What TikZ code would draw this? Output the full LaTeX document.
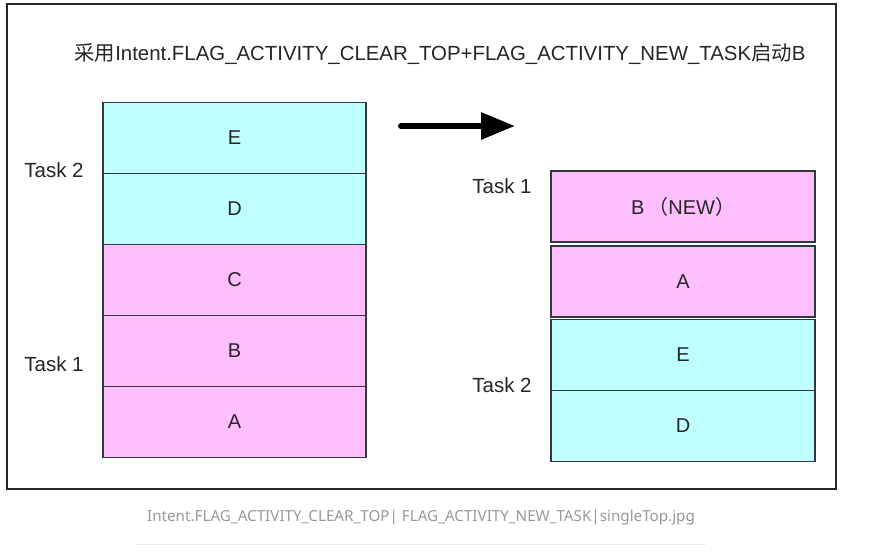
\documentclass[tikz,border=0pt]{standalone}
\usepackage{fontspec}
\setmainfont{Liberation Sans}
\newfontfamily\cjk{Noto Sans CJK SC}
\newfontfamily\capfont{Noto Sans}
\usetikzlibrary{arrows.meta}
\definecolor{cyanfill}{HTML}{BFFFFF}
\definecolor{pinkfill}{HTML}{FFBFFF}
\definecolor{boxline}{HTML}{2F3A3A}
\definecolor{capgray}{HTML}{999999}
\definecolor{rulegray}{HTML}{EBEBEB}
\tikzset{
  stackbox/.style={draw=boxline, line width=1.4pt, minimum width=263pt, minimum height=71pt, inner sep=0pt, font=\fontsize{20}{22}\selectfont, text=black!85},
  cyanbox/.style={stackbox, fill=cyanfill},
  pinkbox/.style={stackbox, fill=pinkfill},
  tasklabel/.style={font=\fontsize{20.5}{22}\selectfont, text=black!85, inner sep=0pt},
}
\begin{document}
\begin{tikzpicture}[x=1pt, y=-1pt]
\useasboundingbox (0,0) rectangle (878,553);
\fill[white] (0,0) rectangle (878,553);
% outer frame
\draw[line width=1.6pt, black!85] (7,4) rectangle (836,489);
% title
\node[inner sep=0pt, font=\fontsize{20.4}{22}\selectfont, text=black!85] (title) at (440,54) {{\cjk 采用}Intent.FLAG\_ACTIVITY\_CLEAR\_TOP+FLAG\_ACTIVITY\_NEW\_TASK{\cjk 启动}B};
% left stack
\node[cyanbox] (lE) at (234.5,138) {E};
\node[cyanbox] (lD) at (234.5,209) {D};
\node[pinkbox] (lC) at (234.5,280) {C};
\node[pinkbox] (lB) at (234.5,351) {B};
\node[pinkbox] (lA) at (234.5,422) {A};
\node[tasklabel] (lt2) at (54,170) {Task 2};
\node[tasklabel] (lt1) at (54,364) {Task 1};
% arrow
\coordinate (arrS) at (401,126);
\coordinate (arrE) at (515,126);
\draw[line width=6pt, line cap=round, -{Triangle[length=34pt,width=26pt]}] (arrS) -- (arrE);
% right stack
\node[pinkbox, minimum width=264pt] (rB) at (683,206.5) {B\hspace{4pt}{\cjk （}NEW{\cjk ）}};
\node[pinkbox, minimum width=264pt] (rA) at (683,281.5) {A};
\node[cyanbox, minimum width=264pt] (rE) at (683,355) {E};
\node[cyanbox, minimum width=264pt] (rD) at (683,426) {D};
\node[tasklabel] (rt1) at (502,186) {Task 1};
\node[tasklabel] (rt2) at (502,385) {Task 2};
% caption
\node[inner sep=0pt, font=\capfont\fontsize{15.2}{17}\selectfont, text=capgray] (cap) at (421,518) {Intent.FLAG\_ACTIVITY\_CLEAR\_TOP| FLAG\_ACTIVITY\_NEW\_TASK|singleTop.jpg};
\coordinate (ruleL) at (136,544);
\coordinate (ruleR) at (706,544);
\draw[rulegray, line width=1pt] (ruleL) -- (ruleR);
\end{tikzpicture}
\end{document}
